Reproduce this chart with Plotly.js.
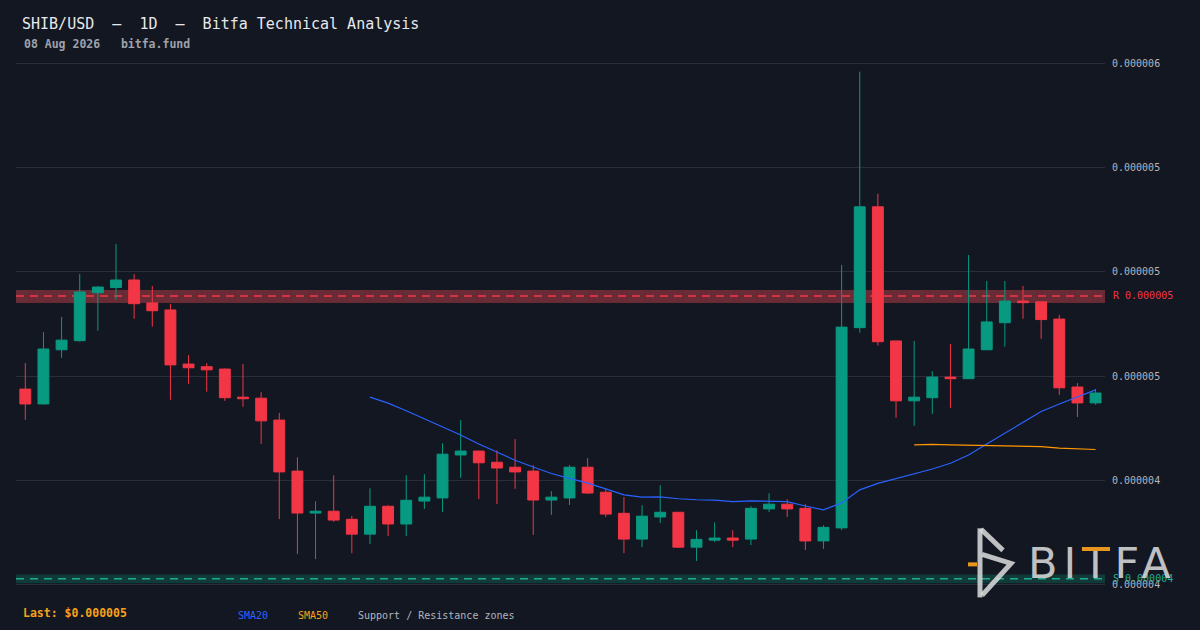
<!DOCTYPE html>
<html>
<head>
<meta charset="utf-8">
<script src="https://cdn.plot.ly/plotly-3.0.1.min.js"></script>
<style>
  html, body { margin: 0; padding: 0; background: #131722; }
  #chart { width: 1200px; height: 630px; }
  g.annotation[data-index="7"] text { letter-spacing: 6px; }
</style>
</head>
<body>
<div id="chart"></div>
<script>
// ---- Data (USD per SHIB) ----
const opens = [4.550e-6,4.493e-6,4.701e-6,4.736e-6,4.920e-6,4.940e-6,4.969e-6,4.881e-6,4.854e-6,4.646e-6,
  4.636e-6,4.627e-6,4.519e-6,4.515e-6,4.431e-6,4.235e-6,4.074e-6,4.081e-6,4.050e-6,3.993e-6,
  4.100e-6,4.032e-6,4.120e-6,4.132e-6,4.297e-6,4.312e-6,4.269e-6,4.250e-6,4.235e-6,4.124e-6,
  4.132e-6,4.250e-6,4.154e-6,4.073e-6,3.974e-6,4.059e-6,4.077e-6,3.943e-6,3.970e-6,3.978e-6,
  3.974e-6,4.090e-6,4.108e-6,4.092e-6,3.967e-6,4.017e-6,4.786e-6,5.250e-6,4.735e-6,4.505e-6,
  4.517e-6,4.596e-6,4.590e-6,4.701e-6,4.805e-6,4.888e-6,4.885e-6,4.819e-6,4.558e-6,4.497e-6];
const highs = [4.650e-6,4.769e-6,4.827e-6,4.992e-6,4.945e-6,5.108e-6,4.992e-6,4.946e-6,4.877e-6,4.681e-6,
  4.650e-6,4.629e-6,4.646e-6,4.538e-6,4.459e-6,4.288e-6,4.119e-6,4.219e-6,4.063e-6,4.169e-6,
  4.104e-6,4.219e-6,4.223e-6,4.342e-6,4.431e-6,4.312e-6,4.315e-6,4.358e-6,4.258e-6,4.158e-6,
  4.258e-6,4.285e-6,4.167e-6,4.135e-6,4.104e-6,4.181e-6,4.077e-6,4.008e-6,4.038e-6,4.008e-6,
  4.100e-6,4.150e-6,4.127e-6,4.108e-6,4.027e-6,5.027e-6,5.769e-6,5.300e-6,4.735e-6,4.735e-6,
  4.619e-6,4.723e-6,5.065e-6,4.965e-6,4.965e-6,4.946e-6,4.885e-6,4.835e-6,4.573e-6,4.550e-6];
const lows = [4.432e-6,4.490e-6,4.670e-6,4.732e-6,4.774e-6,4.893e-6,4.820e-6,4.790e-6,4.509e-6,4.570e-6,
  4.540e-6,4.505e-6,4.482e-6,4.340e-6,4.051e-6,3.917e-6,3.897e-6,4.040e-6,3.920e-6,3.955e-6,
  3.986e-6,3.986e-6,4.090e-6,4.078e-6,4.209e-6,4.128e-6,4.109e-6,4.167e-6,3.990e-6,4.067e-6,
  4.105e-6,4.147e-6,4.059e-6,3.920e-6,3.943e-6,4.036e-6,3.940e-6,3.890e-6,3.963e-6,3.943e-6,
  3.951e-6,4.078e-6,4.059e-6,3.932e-6,3.936e-6,4.008e-6,4.767e-6,4.717e-6,4.440e-6,4.409e-6,
  4.455e-6,4.478e-6,4.590e-6,4.701e-6,4.713e-6,4.820e-6,4.743e-6,4.528e-6,4.443e-6,4.490e-6];
const closes = [4.493e-6,4.704e-6,4.738e-6,4.923e-6,4.942e-6,4.969e-6,4.878e-6,4.851e-6,4.643e-6,4.632e-6,
  4.624e-6,4.517e-6,4.513e-6,4.428e-6,4.232e-6,4.074e-6,4.081e-6,4.047e-6,3.993e-6,4.100e-6,
  4.032e-6,4.123e-6,4.135e-6,4.300e-6,4.312e-6,4.267e-6,4.247e-6,4.232e-6,4.124e-6,4.135e-6,
  4.250e-6,4.151e-6,4.070e-6,3.974e-6,4.062e-6,4.077e-6,3.943e-6,3.973e-6,3.978e-6,3.970e-6,
  4.092e-6,4.108e-6,4.090e-6,3.967e-6,4.019e-6,4.788e-6,5.250e-6,4.732e-6,4.505e-6,4.519e-6,
  4.596e-6,4.590e-6,4.704e-6,4.808e-6,4.888e-6,4.882e-6,4.817e-6,4.555e-6,4.497e-6,4.535e-6];

// SMA20 starts at candle 19, SMA50 at candle 49
const sma20Start = 19;
const sma20 = [4.519e-6,4.496e-6,4.467e-6,4.437e-6,4.406e-6,4.374e-6,4.339e-6,4.308e-6,4.277e-6,4.251e-6,
  4.226e-6,4.207e-6,4.189e-6,4.167e-6,4.144e-6,4.135e-6,4.136e-6,4.129e-6,4.125e-6,4.124e-6,
  4.118e-6,4.121e-6,4.120e-6,4.118e-6,4.101e-6,4.086e-6,4.113e-6,4.163e-6,4.188e-6,4.207e-6,
  4.226e-6,4.243e-6,4.265e-6,4.297e-6,4.339e-6,4.380e-6,4.420e-6,4.464e-6,4.493e-6,4.519e-6,4.547e-6];
const sma50Start = 49;
const sma50 = [4.336e-6,4.338e-6,4.336e-6,4.335e-6,4.333e-6,4.332e-6,4.330e-6,4.329e-6,4.323e-6,4.320e-6,4.318e-6];

// Support / resistance zones
const resistance = {low: 4.881e-6, level: 4.908e-6, high: 4.931e-6};
const support = {low: 3.804e-6, level: 3.822e-6, high: 3.838e-6};

const yTicks = [3.8e-6, 4.2e-6, 4.6e-6, 5.0e-6, 5.4e-6, 5.8e-6];

const titleText = "SHIB/USD\u00a0\u00a0–\u00a0\u00a01D\u00a0\u00a0–\u00a0\u00a0Bitfa Technical Analysis";
const subtitleText = "08 Aug 2026\u00a0\u00a0\u00a0bitfa.fund";
const lastText = "Last: $0.000005";

// ---- Layout helpers (pixel -> paper) ----
const M = {l: 16, r: 95, t: 61.4, b: 43.4};
const PW = 1200 - M.l - M.r, PH = 630 - M.t - M.b;
const px = X => (X - M.l) / PW;
const py = Y => (630 - M.b - Y) / PH;

const MONO = "DejaVu Sans Mono";
const UP = "#089981", DOWN = "#f23645";
const LOGO = "rgba(222,222,222,0.85)", LOGO_ORANGE = "#e8961e";

const traces = [
  {
    type: "candlestick",
    open: opens, high: highs, low: lows, close: closes,
    increasing: {line: {color: UP, width: 1}, fillcolor: UP},
    decreasing: {line: {color: DOWN, width: 1}, fillcolor: DOWN},
    whiskerwidth: 0,
    hoverinfo: "skip"
  },
  {
    type: "scatter", mode: "lines",
    x0: sma20Start, dx: 1, y: sma20,
    line: {color: "#2962ff", width: 1.2}, hoverinfo: "skip"
  },
  {
    type: "scatter", mode: "lines",
    x0: sma50Start, dx: 1, y: sma50,
    line: {color: "#ff9800", width: 1.2}, hoverinfo: "skip"
  }
];

const shapes = [
  {type: "rect", xref: "paper", yref: "y", x0: 0, x1: 1, y0: resistance.low, y1: resistance.high,
   fillcolor: "#692c36", line: {width: 0}, layer: "below"},
  {type: "line", xref: "paper", yref: "y", x0: 0, x1: 1, y0: resistance.level, y1: resistance.level,
   line: {color: DOWN, width: 1.5, dash: "8px,6px"}, layer: "below"},
  {type: "rect", xref: "paper", yref: "y", x0: 0, x1: 1, y0: support.low, y1: support.high,
   fillcolor: "#113b39", line: {width: 0}, layer: "below"},
  {type: "line", xref: "paper", yref: "y", x0: 0, x1: 1, y0: support.level, y1: support.level,
   line: {color: "#22ab94", width: 1.5, dash: "8px,6px"}, layer: "below"},
  // logo icon
  {type: "path", xref: "paper", yref: "paper",
   path: `M ${px(980)},${py(528)} L ${px(980)},${py(597)}`,
   line: {color: LOGO, width: 5}},
  {type: "path", xref: "paper", yref: "paper",
   path: `M ${px(981)},${py(529)} L ${px(1003)},${py(550)}`,
   line: {color: LOGO, width: 5}},
  {type: "path", xref: "paper", yref: "paper",
   path: `M ${px(982)},${py(554)} L ${px(1011)},${py(563)} L ${px(982)},${py(595)}`,
   line: {color: LOGO, width: 5}},
  {type: "line", xref: "paper", yref: "paper",
   x0: px(968), x1: px(977), y0: py(564), y1: py(564),
   line: {color: LOGO_ORANGE, width: 4}}
];

const annotations = [
  {xref: "paper", yref: "paper", x: px(22), y: py(44.5), xanchor: "left", yanchor: "middle",
   text: "<b>" + subtitleText + "</b>", showarrow: false,
   font: {family: MONO, size: 11.5, color: "#9ea2ab"}},
  {xref: "paper", yref: "paper", x: px(21), y: py(613), xanchor: "left", yanchor: "middle",
   text: "<b>" + lastText + "</b>", showarrow: false,
   font: {family: MONO, size: 11.5, color: "#f7a21b"}},
  {xref: "paper", yref: "paper", x: px(236), y: py(615), xanchor: "left", yanchor: "middle",
   text: "SMA20", showarrow: false, font: {family: MONO, size: 10, color: "#2962ff"}},
  {xref: "paper", yref: "paper", x: px(296), y: py(615), xanchor: "left", yanchor: "middle",
   text: "SMA50", showarrow: false, font: {family: MONO, size: 10, color: "#f7a21b"}},
  {xref: "paper", yref: "paper", x: px(356), y: py(615), xanchor: "left", yanchor: "middle",
   text: "Support / Resistance zones", showarrow: false, font: {family: MONO, size: 10, color: "#b2b5be"}},
  {xref: "paper", yref: "y", x: px(1111), y: resistance.level, xanchor: "left", yanchor: "middle",
   text: "R 0.000005", showarrow: false, font: {family: MONO, size: 10, color: DOWN}},
  {xref: "paper", yref: "y", x: px(1111), y: support.level, xanchor: "left", yanchor: "middle",
   text: "S 0.000004", showarrow: false, font: {family: MONO, size: 10, color: "#22ab94"}},
  {xref: "paper", yref: "paper", x: px(1041), y: py(562.5), xanchor: "left", yanchor: "middle",
   text: "BITFA", showarrow: false, opacity: 0.85,
   font: {family: "DejaVu Sans", size: 43, color: "#dedede"}},
  // orange bar of the logo's T, drawn on top of the lettering
  {xref: "paper", yref: "paper", x: px(1090.5), y: py(548), xanchor: "center", yanchor: "middle",
   text: " ", showarrow: false, width: 29, height: 4, borderpad: 0, borderwidth: 0,
   bgcolor: LOGO_ORANGE, font: {size: 1, color: LOGO_ORANGE}}
];

const layout = {
  width: 1200, height: 630,
  paper_bgcolor: "#131722", plot_bgcolor: "#131722",
  margin: M,
  showlegend: false,
  boxgap: 0.4, boxgroupgap: 0,
  title: {
    text: titleText, xref: "container", yref: "container",
    x: 22 / 1200, xanchor: "left", y: 1 - 24 / 630, yanchor: "middle",
    font: {family: MONO, size: 15, color: "#e6e8ec"}
  },
  xaxis: {
    range: [-0.513, 59.52], showgrid: false, zeroline: false, showticklabels: false,
    showline: false, ticks: "", rangeslider: {visible: false}, fixedrange: true
  },
  yaxis: {
    side: "right", range: [3.79e-6, 5.81e-6], tickvals: yTicks, tickformat: ".6f",
    showgrid: true, gridcolor: "#2a2e39", gridwidth: 1, zeroline: false, showline: false,
    ticks: "", ticklabelstandoff: 6, automargin: false,
    tickfont: {family: MONO, size: 10, color: "#b2b5be"}
  },
  shapes: shapes,
  annotations: annotations
};

const gd = document.getElementById("chart");
Plotly.newPlot(gd, traces, layout, {staticPlot: true, displayModeBar: false}).then(() => {
  // place the orange bar exactly over the "T" of the logo lettering
  const t = gd.querySelector('g.annotation[data-index="7"] text');
  if (!t || !t.getNumberOfChars || t.getNumberOfChars() < 3) return;
  const ext = t.getExtentOfChar(2);
  const base = t.getStartPositionOfChar(2);
  const m = t.getScreenCTM();
  const box = gd.getBoundingClientRect();
  const pL = new DOMPoint(ext.x + 1, base.y).matrixTransform(m);
  const pR = new DOMPoint(ext.x + ext.width - 6, base.y).matrixTransform(m);
  const cx = (pL.x + pR.x) / 2 - box.left;
  const capTop = pL.y - box.top - 0.729 * 43;
  Plotly.relayout(gd, {
    "annotations[8].x": px(cx),
    "annotations[8].y": py(capTop + 2),
    "annotations[8].width": Math.max(20, pR.x - pL.x + 3)
  });
});
</script>
</body>
</html>
